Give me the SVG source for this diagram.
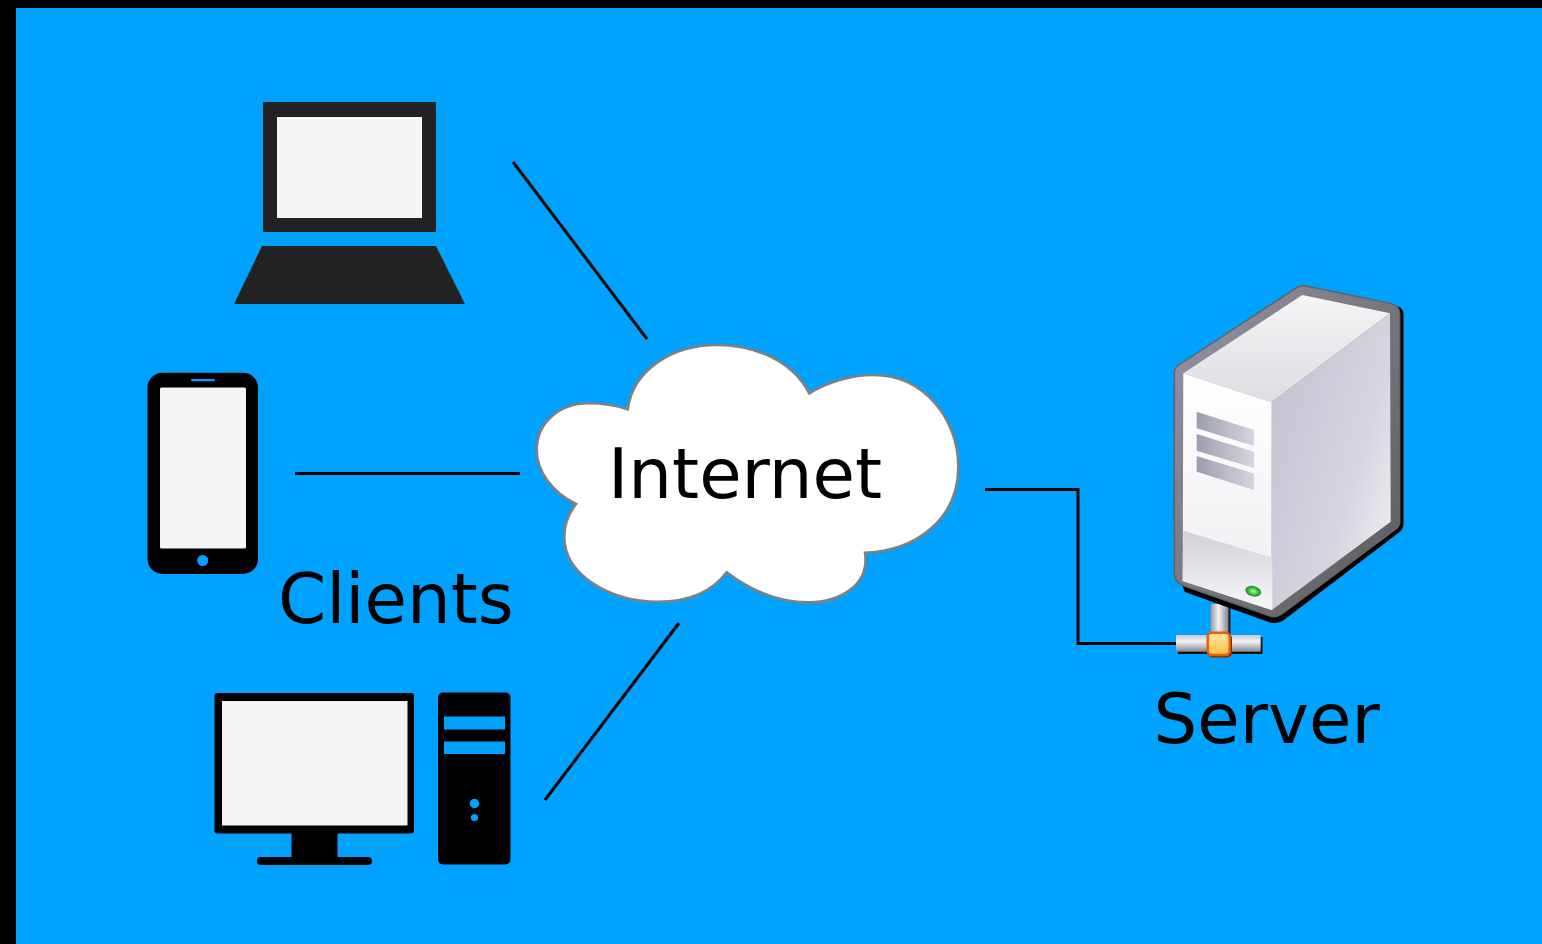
<svg xmlns="http://www.w3.org/2000/svg" width="1542" height="944" viewBox="0 0 1542 944">
<style>
.lbl{font-family:"DejaVu Sans",sans-serif;font-size:69px;fill:#000}
.conn{fill:none;stroke:#000;stroke-width:3}
.blue{fill:#00a2ff}
.scr{fill:#f5f5f5}
</style>
<defs>
<linearGradient id="top" x1="0" y1="0" x2="0" y2="1"><stop offset="0" stop-color="#f5f5f6"/><stop offset="1" stop-color="#dcdce2"/></linearGradient>
<linearGradient id="right" x1="0.1" y1="0.2" x2="0.95" y2="0.85"><stop offset="0" stop-color="#c6c6d4"/><stop offset="0.65" stop-color="#d6d6e0"/><stop offset="1" stop-color="#ecedf1"/></linearGradient>
<linearGradient id="front" x1="0" y1="0" x2="0" y2="1"><stop offset="0" stop-color="#fff"/><stop offset="1" stop-color="#eeeef2"/></linearGradient>
<linearGradient id="band" x1="0" y1="0" x2="0" y2="1"><stop offset="0" stop-color="#cfcfd8"/><stop offset="1" stop-color="#f8f8f9"/></linearGradient>
<linearGradient id="rim" x1="0" y1="0" x2="1" y2="1"><stop offset="0" stop-color="#9595aa"/><stop offset="0.5" stop-color="#77777f"/><stop offset="1" stop-color="#5a5a5a"/></linearGradient>
<linearGradient id="slot" x1="0" y1="0" x2="1" y2="0"><stop offset="0" stop-color="#9d9db1"/><stop offset="1" stop-color="#d6d6e0"/></linearGradient>
<linearGradient id="pipeH" x1="0" y1="0" x2="0" y2="1"><stop offset="0" stop-color="#c8c8d2"/><stop offset="0.4" stop-color="#f2f2f5"/><stop offset="1" stop-color="#85858f"/></linearGradient>
<linearGradient id="pipeV" x1="0" y1="0" x2="1" y2="0"><stop offset="0" stop-color="#9a9aa6"/><stop offset="0.45" stop-color="#f2f2f5"/><stop offset="1" stop-color="#85858f"/></linearGradient>
<linearGradient id="hub" x1="0" y1="0" x2="0" y2="1"><stop offset="0" stop-color="#ffe9a8"/><stop offset="1" stop-color="#ffbe3c"/></linearGradient>
<radialGradient id="led"><stop offset="0" stop-color="#c8f5b0"/><stop offset="0.6" stop-color="#35c234"/><stop offset="1" stop-color="#0f8a2c"/></radialGradient>
</defs>
<rect width="1542" height="944" fill="#000"/>
<rect x="16" y="8" width="1526" height="936" class="blue"/>
<g id="connectors">
<path class="conn" d="M513 162L647 339"/>
<path class="conn" d="M295 473.500H520"/>
<path class="conn" d="M679 623L545 800"/>
<path class="conn" d="M985 489.500H1078V643.500H1178"/>
</g>
<g id="laptop">
<rect x="263" y="102" width="173" height="130" fill="#222"/>
<rect x="277" y="117" width="145" height="101" class="scr"/>
<path d="M262 246H436L465 304H234Z" fill="#222"/>
</g>
<g id="phone">
<rect x="147.500" y="372.700" width="110.500" height="201.300" rx="15" fill="#000"/>
<rect x="160" y="387.500" width="86" height="161" rx="1.500" class="scr"/>
<rect x="191" y="379" width="24" height="2.200" rx="1" class="blue"/>
<circle cx="202.700" cy="560.500" r="5.500" class="blue"/>
</g>
<g id="desktop">
<rect x="214.500" y="693" width="199.500" height="140.500" rx="3" fill="#000"/>
<rect x="222" y="701" width="185.500" height="124.500" class="scr"/>
<rect x="291.500" y="832" width="46" height="27" fill="#000"/>
<rect x="257" y="857" width="115" height="8" rx="4" fill="#000"/>
<rect x="438" y="692.500" width="72.500" height="172" rx="5" fill="#000"/>
<rect x="444" y="716.500" width="61" height="13" class="blue"/>
<rect x="444" y="741.500" width="61" height="12.500" class="blue"/>
<circle cx="474.500" cy="803.500" r="4.700" class="blue"/>
<circle cx="474.500" cy="817.500" r="3.600" class="blue"/>
</g>
<g id="cloud">
<path d="M627.700 409.300C633 370 672 345 717 345C757 345 793 362 809.300 393.300C826 383 850 375 873.300 375C925 375 958.300 420 958.300 466.700C958.300 520 915 551 865 552.700C870 585 840 602.300 808.300 602.300C778 602.300 750 590 726.700 572.300C712 592 688 601.700 658.300 601.700C610 601.700 564.300 575 564.300 536.700C564.300 524 569 513 576 504C553 493 536.700 472 536.700 450C536.700 422 560 403.300 588.300 403.300C603 403.300 616 405.500 627.700 409.300Z" fill="#fff" stroke="#808080" stroke-width="2.600"/>
<text class="lbl" x="608" y="498.300">Internet</text>
</g>
<g id="clients-label"><text class="lbl" x="278" y="623">Clients</text></g>
<g id="server">
<rect x="1212.500" y="606" width="18" height="32" fill="#222"/>
<rect x="1210.700" y="604" width="17.600" height="32" fill="url(#pipeV)"/>
<rect x="1178" y="637" width="84.500" height="17" fill="#111"/>
<rect x="1176" y="635" width="84.700" height="16.700" fill="url(#pipeH)"/>
<path d="M1392 304L1398 306.500Q1403.500 308 1403.500 315V524Q1403.500 529 1399 532.500L1284 620Q1277 625 1270 622.500L1185 592L1178 575L1380 400Z" fill="#000"/>
<path d="M1297.500 287Q1301.500 285 1306 286L1391 303.500Q1399.700 306 1399.700 314V522Q1399.700 526 1396 529L1282 614Q1276 618 1270 616L1183 585.500Q1174.300 582 1174.300 574V372Q1174.300 368 1178 365.500Z" fill="url(#rim)" stroke="#62626a" stroke-width="1.500"/>
<path d="M1302.300 295L1390 313.300L1271.700 402.300L1183.300 373.300Z" fill="url(#top)"/>
<path d="M1390 313.300L1271.700 402.300V610L1390.700 521.700Z" fill="url(#right)"/>
<path d="M1183.300 373.300L1271.700 402.300V610L1182.700 581Z" fill="url(#front)"/>
<path d="M1183.300 530.700L1272.300 557.700V610L1182.700 581Z" fill="url(#band)"/>
<path d="M1196.700 411.700L1254 430V446L1196.700 428.300Z" fill="url(#slot)"/>
<path d="M1196.700 434L1254 451.700V468L1196.700 450.700Z" fill="url(#slot)"/>
<path d="M1196.700 456L1254 473.500V490L1196.700 471.700Z" fill="url(#slot)"/>
<ellipse cx="1253.300" cy="591.300" rx="8" ry="5.200" transform="rotate(15 1253.300 591.300)" fill="url(#led)"/>
<rect x="1207.500" y="633.500" width="24.500" height="24" rx="5" fill="#7a2a00"/>
<rect x="1207.700" y="632.700" width="22" height="22.300" rx="4" fill="url(#hub)" stroke="#f05a00" stroke-width="2.400"/>
</g>
<g id="server-label"><text class="lbl" x="1153.500" y="743">Server</text></g>
</svg>
